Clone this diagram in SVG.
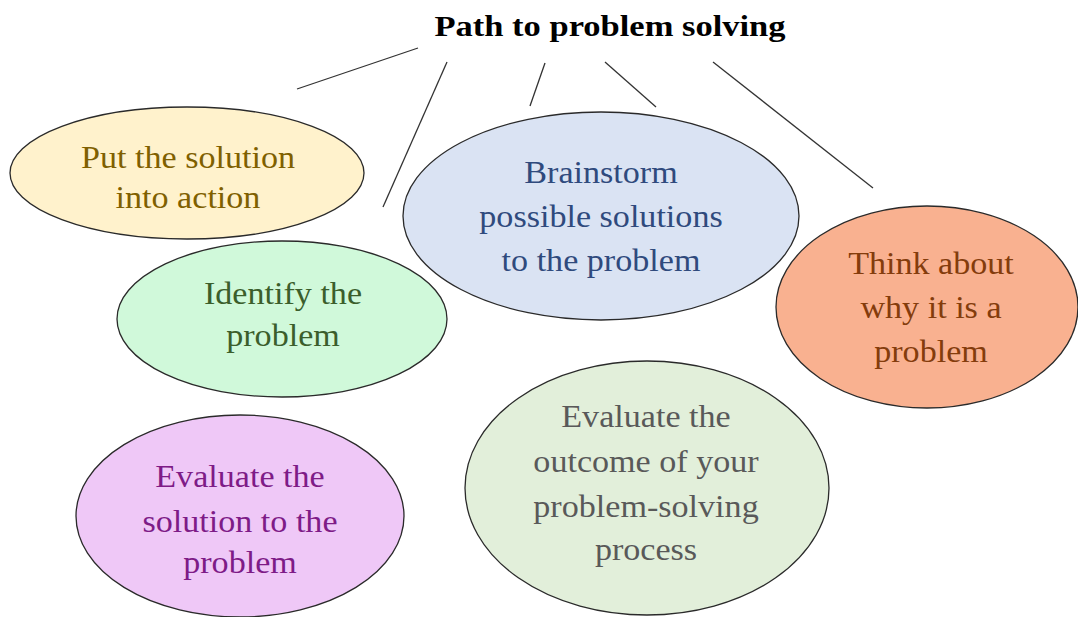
<svg xmlns="http://www.w3.org/2000/svg" width="1078" height="617" viewBox="0 0 1078 617">
<style>
.n{stroke:#2a2a2a;stroke-width:1.3}
.t{font-family:"Liberation Serif","Times New Roman",serif;font-size:31px;text-anchor:middle}
.c line{stroke:#333;stroke-width:1.3}
</style>
<rect width="1078" height="617" fill="#fff"/>
<g id="title"><text class="t" transform="translate(610,36) scale(1.15,1)" x="0" y="0" style="font-weight:bold;font-size:30px" fill="#000">Path to problem solving</text></g>
<g class="c" id="connectors">
<line x1="297" y1="89" x2="418" y2="48"/>
<line x1="447" y1="62" x2="383" y2="207"/>
<line x1="545" y1="63" x2="530" y2="106"/>
<line x1="605" y1="62" x2="656" y2="107"/>
<line x1="713" y1="62" x2="873" y2="188"/>
</g>
<g id="put">
<ellipse class="n" cx="187" cy="173" rx="177" ry="66" fill="#FFF2CC"/>
<g transform="translate(188,0) scale(1.1,1)" class="t" fill="#7F6000"><text x="0" y="168">Put the solution</text><text x="0" y="208">into action</text></g>
</g>
<g id="identify">
<ellipse class="n" cx="282" cy="319" rx="165" ry="78" fill="#D0F9DA"/>
<g transform="translate(283,0) scale(1.1,1)" class="t" fill="#3B5E2B"><text x="0" y="304">Identify the</text><text x="0" y="346">problem</text></g>
</g>
<g id="brainstorm">
<ellipse class="n" cx="601" cy="216" rx="198" ry="104" fill="#DAE3F3"/>
<g transform="translate(601,0) scale(1.1,1)" class="t" fill="#2F4A7D"><text x="0" y="183">Brainstorm</text><text x="0" y="227">possible solutions</text><text x="0" y="271">to the problem</text></g>
</g>
<g id="think">
<ellipse class="n" cx="927" cy="307" rx="151" ry="101" fill="#F9B190"/>
<g transform="translate(931,0) scale(1.1,1)" class="t" fill="#843C0C"><text x="0" y="274">Think about</text><text x="0" y="318">why it is a</text><text x="0" y="362">problem</text></g>
</g>
<g id="evaluate-solution">
<ellipse class="n" cx="240" cy="516" rx="164" ry="101" fill="#EFC8F7"/>
<g transform="translate(240,0) scale(1.1,1)" class="t" fill="#7E1B87"><text x="0" y="487">Evaluate the</text><text x="0" y="532">solution to the</text><text x="0" y="573">problem</text></g>
</g>
<g id="evaluate-outcome">
<ellipse class="n" cx="647" cy="488" rx="182" ry="127" fill="#E2EFDA"/>
<g transform="translate(646,0) scale(1.1,1)" class="t" fill="#595959"><text x="0" y="427">Evaluate the</text><text x="0" y="472">outcome of your</text><text x="0" y="517">problem-solving</text><text x="0" y="560">process</text></g>
</g>
</svg>
